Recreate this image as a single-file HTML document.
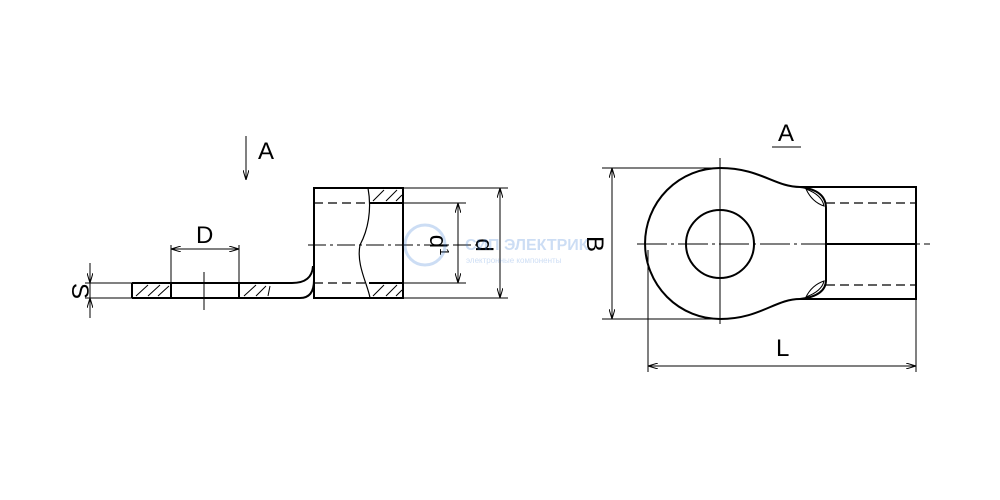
<!DOCTYPE html>
<html><head><style>html,body{margin:0;padding:0;background:#fff}svg{display:block}</style></head>
<body>
<svg width="1000" height="500" viewBox="0 0 1000 500" xmlns="http://www.w3.org/2000/svg" font-family="Liberation Sans, sans-serif">
<defs>
<marker id="ar" viewBox="0 0 10 6" refX="10" refY="3" markerWidth="10" markerHeight="6" orient="auto-start-reverse" markerUnits="userSpaceOnUse"><path d="M0,0 L10,3 L0,6" fill="none" stroke="#000" stroke-width="1"/></marker>
</defs>
<g stroke="#000" fill="none">
<g stroke-width="2">
<path d="M132,283 H292 Q312,283 313,266"/>
<path d="M132,298 H300 Q314,298 314,280"/>
<path d="M132,283 V298 M171,283 V298 M239,283 V298"/>
<rect x="314" y="188" width="89" height="110"/>
<line x1="369" y1="203" x2="403" y2="203"/>
<line x1="369" y1="283" x2="403" y2="283"/>
</g>
<path d="M368,188 C372,210 368,230 360,245 C356,265 368,285 370,298" stroke-width="1.2"/>
<g stroke-width="1">
<path d="M136,296 L148,285 M148,296 L160,285 M158,296 L169,286 M244,296 L256,285 M256,296 L266,286 M270,286 L268,296"/>
<path d="M373,201 L384,190 M386,201 L397,190 M396,201 L402,195"/>
<path d="M373,296 L384,285 M386,296 L397,285 M396,296 L402,290"/>
</g>
<g stroke-width="1.3" stroke-dasharray="9,5">
<line x1="314" y1="203" x2="369" y2="203"/>
<line x1="314" y1="283" x2="369" y2="283"/>
</g>
<line x1="308" y1="245" x2="480" y2="245" stroke-width="1" stroke-dasharray="18,4,3,4"/>
<line x1="204" y1="272" x2="204" y2="310" stroke-width="1"/>
<g stroke-width="1">
<line x1="403" y1="188" x2="508" y2="188"/>
<line x1="403" y1="298" x2="508" y2="298"/>
<line x1="403" y1="203" x2="466" y2="203"/>
<line x1="403" y1="283" x2="466" y2="283"/>
<line x1="458" y1="203" x2="458" y2="283" marker-start="url(#ar)" marker-end="url(#ar)"/>
<line x1="500" y1="188" x2="500" y2="298" marker-start="url(#ar)" marker-end="url(#ar)"/>
<line x1="171" y1="245" x2="171" y2="283"/>
<line x1="239" y1="245" x2="239" y2="283"/>
<line x1="171" y1="249" x2="239" y2="249" marker-start="url(#ar)" marker-end="url(#ar)"/>
<line x1="85" y1="283" x2="132" y2="283"/>
<line x1="85" y1="298" x2="132" y2="298"/>
<line x1="90" y1="263" x2="90" y2="283" marker-end="url(#ar)"/>
<line x1="90" y1="318" x2="90" y2="298" marker-end="url(#ar)"/>
<line x1="90" y1="283" x2="90" y2="298"/>
<line x1="246" y1="136" x2="246" y2="180" marker-end="url(#ar)"/>
</g>
<g stroke-width="2">
<path d="M720,168 C760,168 775,187 800,187 L916,187 V299 H800 C775,299 760,319 720,319 A75,75.5 0 0 1 720,168 Z"/>
<path d="M800,187 Q826,190 826,208 V280 Q826,296 800,299"/>
<circle cx="720" cy="244" r="34"/>
<line x1="826" y1="244" x2="916" y2="244"/>
</g>
<g stroke-width="1">
<path d="M806,189 Q822,195 824,206 Q812,202 806,189 Z M806,297 Q822,291 824,281 Q812,285 806,297 Z"/>
</g>
<g stroke-width="1.3" stroke-dasharray="9,5">
<line x1="826" y1="203" x2="916" y2="203"/>
<line x1="826" y1="285" x2="916" y2="285"/>
</g>
<line x1="637" y1="244" x2="930" y2="244" stroke-width="1" stroke-dasharray="30,4,3,4"/>
<line x1="720" y1="158" x2="720" y2="324" stroke-width="1"/>
<g stroke-width="1">
<line x1="602" y1="168" x2="720" y2="168"/>
<line x1="602" y1="319" x2="720" y2="319"/>
<line x1="612" y1="168" x2="612" y2="319" marker-start="url(#ar)" marker-end="url(#ar)"/>
<line x1="648" y1="250" x2="648" y2="372"/>
<line x1="916" y1="299" x2="916" y2="372"/>
<line x1="648" y1="366" x2="916" y2="366" marker-start="url(#ar)" marker-end="url(#ar)"/>
<line x1="772" y1="147" x2="801" y2="147"/>
</g>
</g>
<g fill="#000" font-size="24">
<text x="258" y="159">A</text>
<text x="778" y="141">A</text>
<text x="196" y="243">D</text>
<text x="776" y="356">L</text>
<text transform="translate(72,291) rotate(90)" text-anchor="middle">S</text>
<text transform="translate(587,244) rotate(90)" text-anchor="middle">B</text>
<text transform="translate(430,245) rotate(90)" text-anchor="middle">d<tspan font-size="13" dy="-10">1</tspan></text>
<text transform="translate(476,245) rotate(90)" text-anchor="middle">d</text>
</g>
<g opacity="0.25" fill="#3a7bd5">
<circle cx="425" cy="245" r="20" fill="none" stroke="#3a7bd5" stroke-width="3"/>
<text x="465" y="250" font-size="16" font-weight="bold">СИП ЭЛЕКТРИК</text>
<text x="466" y="263" font-size="8">электронные компоненты</text>
</g>
</svg>
</body></html>
